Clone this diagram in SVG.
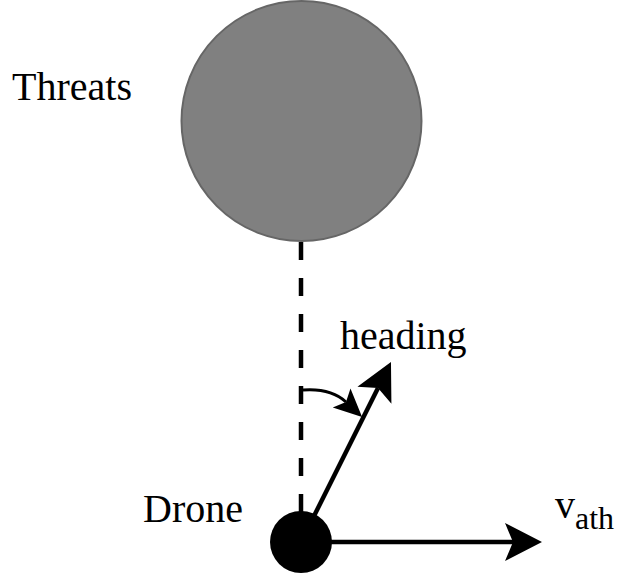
<svg xmlns="http://www.w3.org/2000/svg" width="633" height="573" viewBox="0 0 633 573">
<style>
text{font-family:"Liberation Serif","Times New Roman",serif;font-size:40px;fill:#000}
.conn{fill:none;stroke:#000}
</style>
<defs>
<marker id="big" markerUnits="userSpaceOnUse" viewBox="0 -20 38 40" refX="8" refY="0" markerWidth="38" markerHeight="40" orient="auto">
<path d="M0,-19 L37,0 L0,19 L8,0 Z" fill="#000"/>
</marker>
<marker id="small" markerUnits="userSpaceOnUse" viewBox="0 -14 29 28" refX="6" refY="0" markerWidth="29" markerHeight="28" orient="auto">
<path d="M0,-13 L28,0 L0,13 L6,0 Z" fill="#000"/>
</marker>
</defs>
<g id="connectors">
<line class="conn" x1="301" y1="242" x2="301" y2="512" stroke-width="4.5" stroke-dasharray="18 18"/>
<line class="conn" x1="301" y1="542" x2="378" y2="388" stroke-width="4.5" marker-end="url(#big)"/>
<line class="conn" x1="301" y1="542" x2="513" y2="542" stroke-width="4.5" marker-end="url(#big)"/>
<path class="conn" d="M303,390 Q331,388 346,402" stroke-width="3" marker-end="url(#small)"/>
</g>
<g id="threats">
<circle cx="301.5" cy="121" r="120" fill="#808080" stroke="#666666" stroke-width="2"/>
<text x="12" y="100" font-size="41.5">Threats</text>
</g>
<g id="drone">
<circle cx="301" cy="542" r="31" fill="#000"/>
<text x="143" y="522" font-size="41">Drone</text>
</g>
<g id="heading-label">
<text x="340" y="349">heading</text>
</g>
<g id="vath-label">
<text x="555" y="518">v<tspan x="575" y="529" font-size="32">ath</tspan></text>
</g>
</svg>
